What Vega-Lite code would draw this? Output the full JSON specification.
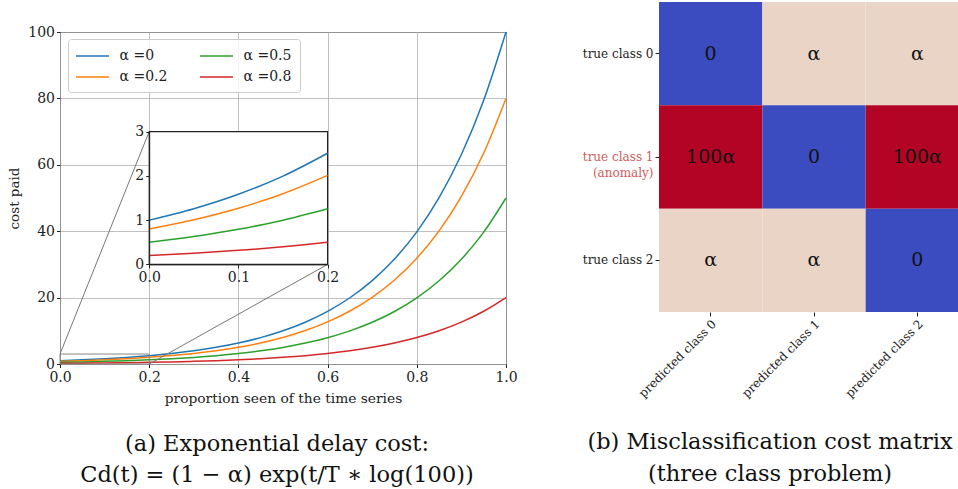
{
  "$schema": "https://vega.github.io/schema/vega-lite/v6.json",
  "background": "white",
  "padding": {"left": 7, "top": 2, "right": 0, "bottom": 0},
  "config": {
    "font": "DejaVu Serif",
    "view": {"stroke": null},
    "axis": {"labelFont": "DejaVu Serif", "titleFont": "DejaVu Serif", "labelColor": "#222", "titleColor": "#222", "titleFontWeight": "normal", "tickColor": "#222", "domainColor": "#222", "labelFlush": false, "labelOverlap": false},
    "legend": {"labelFont": "DejaVu Serif"},
    "title": {"font": "DejaVu Serif", "fontWeight": "normal", "color": "#111"}
  },
  "datasets": {
    "curves": [
      {"t": 0, "cost": 1, "s": "α =0"}, {"t": 0.05, "cost": 1.259, "s": "α =0"}, {"t": 0.1, "cost": 1.585, "s": "α =0"}, {"t": 0.15, "cost": 1.995, "s": "α =0"}, {"t": 0.2, "cost": 2.512, "s": "α =0"}, {"t": 0.25, "cost": 3.162, "s": "α =0"}, {"t": 0.3, "cost": 3.981, "s": "α =0"}, {"t": 0.35, "cost": 5.012, "s": "α =0"}, {"t": 0.4, "cost": 6.31, "s": "α =0"}, {"t": 0.45, "cost": 7.943, "s": "α =0"}, {"t": 0.5, "cost": 10, "s": "α =0"}, {"t": 0.55, "cost": 12.589, "s": "α =0"}, {"t": 0.6, "cost": 15.849, "s": "α =0"}, {"t": 0.65, "cost": 19.953, "s": "α =0"}, {"t": 0.7, "cost": 25.119, "s": "α =0"}, {"t": 0.75, "cost": 31.623, "s": "α =0"}, {"t": 0.8, "cost": 39.811, "s": "α =0"}, {"t": 0.85, "cost": 50.119, "s": "α =0"}, {"t": 0.9, "cost": 63.096, "s": "α =0"}, {"t": 0.95, "cost": 79.433, "s": "α =0"}, {"t": 1, "cost": 100, "s": "α =0"},
      {"t": 0, "cost": 0.8, "s": "α =0.2"}, {"t": 0.05, "cost": 1.007, "s": "α =0.2"}, {"t": 0.1, "cost": 1.268, "s": "α =0.2"}, {"t": 0.15, "cost": 1.596, "s": "α =0.2"}, {"t": 0.2, "cost": 2.01, "s": "α =0.2"}, {"t": 0.25, "cost": 2.53, "s": "α =0.2"}, {"t": 0.3, "cost": 3.185, "s": "α =0.2"}, {"t": 0.35, "cost": 4.01, "s": "α =0.2"}, {"t": 0.4, "cost": 5.048, "s": "α =0.2"}, {"t": 0.45, "cost": 6.355, "s": "α =0.2"}, {"t": 0.5, "cost": 8, "s": "α =0.2"}, {"t": 0.55, "cost": 10.071, "s": "α =0.2"}, {"t": 0.6, "cost": 12.679, "s": "α =0.2"}, {"t": 0.65, "cost": 15.962, "s": "α =0.2"}, {"t": 0.7, "cost": 20.095, "s": "α =0.2"}, {"t": 0.75, "cost": 25.298, "s": "α =0.2"}, {"t": 0.8, "cost": 31.849, "s": "α =0.2"}, {"t": 0.85, "cost": 40.095, "s": "α =0.2"}, {"t": 0.9, "cost": 50.477, "s": "α =0.2"}, {"t": 0.95, "cost": 63.546, "s": "α =0.2"}, {"t": 1, "cost": 80, "s": "α =0.2"},
      {"t": 0, "cost": 0.5, "s": "α =0.5"}, {"t": 0.05, "cost": 0.629, "s": "α =0.5"}, {"t": 0.1, "cost": 0.792, "s": "α =0.5"}, {"t": 0.15, "cost": 0.998, "s": "α =0.5"}, {"t": 0.2, "cost": 1.256, "s": "α =0.5"}, {"t": 0.25, "cost": 1.581, "s": "α =0.5"}, {"t": 0.3, "cost": 1.991, "s": "α =0.5"}, {"t": 0.35, "cost": 2.506, "s": "α =0.5"}, {"t": 0.4, "cost": 3.155, "s": "α =0.5"}, {"t": 0.45, "cost": 3.972, "s": "α =0.5"}, {"t": 0.5, "cost": 5, "s": "α =0.5"}, {"t": 0.55, "cost": 6.295, "s": "α =0.5"}, {"t": 0.6, "cost": 7.924, "s": "α =0.5"}, {"t": 0.65, "cost": 9.976, "s": "α =0.5"}, {"t": 0.7, "cost": 12.559, "s": "α =0.5"}, {"t": 0.75, "cost": 15.811, "s": "α =0.5"}, {"t": 0.8, "cost": 19.905, "s": "α =0.5"}, {"t": 0.85, "cost": 25.059, "s": "α =0.5"}, {"t": 0.9, "cost": 31.548, "s": "α =0.5"}, {"t": 0.95, "cost": 39.716, "s": "α =0.5"}, {"t": 1, "cost": 50, "s": "α =0.5"},
      {"t": 0, "cost": 0.2, "s": "α =0.8"}, {"t": 0.05, "cost": 0.252, "s": "α =0.8"}, {"t": 0.1, "cost": 0.317, "s": "α =0.8"}, {"t": 0.15, "cost": 0.399, "s": "α =0.8"}, {"t": 0.2, "cost": 0.502, "s": "α =0.8"}, {"t": 0.25, "cost": 0.632, "s": "α =0.8"}, {"t": 0.3, "cost": 0.796, "s": "α =0.8"}, {"t": 0.35, "cost": 1.002, "s": "α =0.8"}, {"t": 0.4, "cost": 1.262, "s": "α =0.8"}, {"t": 0.45, "cost": 1.589, "s": "α =0.8"}, {"t": 0.5, "cost": 2, "s": "α =0.8"}, {"t": 0.55, "cost": 2.518, "s": "α =0.8"}, {"t": 0.6, "cost": 3.17, "s": "α =0.8"}, {"t": 0.65, "cost": 3.991, "s": "α =0.8"}, {"t": 0.7, "cost": 5.024, "s": "α =0.8"}, {"t": 0.75, "cost": 6.325, "s": "α =0.8"}, {"t": 0.8, "cost": 7.962, "s": "α =0.8"}, {"t": 0.85, "cost": 10.024, "s": "α =0.8"}, {"t": 0.9, "cost": 12.619, "s": "α =0.8"}, {"t": 0.95, "cost": 15.887, "s": "α =0.8"}, {"t": 1, "cost": 20, "s": "α =0.8"}
    ],
    "matrix": [
      {"truth": "true class 0", "pred": "predicted class 0", "cost": "0"},
      {"truth": "true class 0", "pred": "predicted class 1", "cost": "α"},
      {"truth": "true class 0", "pred": "predicted class 2", "cost": "α"},
      {"truth": "true class 1", "pred": "predicted class 0", "cost": "100α"},
      {"truth": "true class 1", "pred": "predicted class 1", "cost": "0"},
      {"truth": "true class 1", "pred": "predicted class 2", "cost": "100α"},
      {"truth": "true class 2", "pred": "predicted class 0", "cost": "α"},
      {"truth": "true class 2", "pred": "predicted class 1", "cost": "α"},
      {"truth": "true class 2", "pred": "predicted class 2", "cost": "0"}
    ]
  },
  "spacing": 64,
  "resolve": {"scale": {"color": "independent"}, "legend": {"color": "independent"}},
  "hconcat": [
    {
      "spacing": 21,
      "vconcat": [
        {
          "width": 446,
          "height": 1,
          "data": {"values": []},
          "mark": "point"
        },
        {
          "width": 446,
          "height": 332,
          "view": {"stroke": "#222", "strokeWidth": 1},
          "title": {"text": ["(a) Exponential delay cost:", "Cd(t) = (1 − α) exp(t/T ∗ log(100))"], "orient": "bottom", "anchor": "middle", "fontSize": 22.5, "lineHeight": 31, "offset": 28, "dx": -6},
          "resolve": {"scale": {"x": "independent", "y": "independent"}, "axis": {"x": "independent", "y": "independent"}},
          "layer": [
            {
              "layer": [
                {
                  "data": {"name": "curves"},
                  "mark": {"type": "line", "interpolate": "monotone", "strokeWidth": 1.5},
                  "encoding": {
                    "x": {"field": "t", "type": "quantitative", "scale": {"domain": [0, 1], "nice": false, "zero": false},
                      "axis": {"values": [0, 0.2, 0.4, 0.6, 0.8, 1], "format": ".1f", "title": "proportion seen of the time series", "titleFontSize": 13.8, "labelFontSize": 14, "grid": true, "gridColor": "#b0b0b0", "gridWidth": 0.8, "domain": false, "tickSize": 3.5, "labelPadding": 3, "titlePadding": 7}},
                    "y": {"field": "cost", "type": "quantitative", "scale": {"domain": [0, 100], "nice": false},
                      "axis": {"values": [0, 20, 40, 60, 80, 100], "title": "cost paid", "titleFontSize": 13.5, "labelFontSize": 14, "grid": true, "gridColor": "#b0b0b0", "gridWidth": 0.8, "domain": false, "tickSize": 3.5, "labelPadding": 2, "titlePadding": 6}},
                    "color": {"field": "s", "type": "nominal",
                      "scale": {"domain": ["α =0", "α =0.2", "α =0.5", "α =0.8"], "range": ["#1f77b4", "#ff7f0e", "#2ca02c", "#d62728"]},
                      "legend": {"title": null, "orient": "none", "legendX": 8, "legendY": 37, "columns": 2, "symbolType": "M-2,0H2", "symbolSize": 272, "symbolStrokeWidth": 1.5, "symbolOffset": 7.5, "labelFontSize": 14, "labelColor": "#222", "labelOffset": 18, "columnPadding": 29, "rowPadding": 5, "padding": 8, "fillColor": "rgba(255,255,255,0.8)", "strokeColor": "#cccccc", "cornerRadius": 3}}
                  }
                },
                {
                  "data": {"values": [{}]},
                  "mark": {"type": "rect", "fill": null, "stroke": "#888888", "strokeWidth": 1},
                  "encoding": {"x": {"datum": 0, "type": "quantitative"}, "x2": {"datum": 0.2}, "y": {"datum": 0, "type": "quantitative"}, "y2": {"datum": 3}}
                },
                {
                  "data": {"values": [{}]},
                  "mark": {"type": "rule", "color": "#777777", "strokeWidth": 1},
                  "encoding": {"x": {"datum": 0, "type": "quantitative"}, "x2": {"datum": 0.2}, "y": {"datum": 3, "type": "quantitative"}, "y2": {"datum": 70}}
                },
                {
                  "data": {"values": [{}]},
                  "mark": {"type": "rule", "color": "#777777", "strokeWidth": 1},
                  "encoding": {"x": {"datum": 0.2, "type": "quantitative"}, "x2": {"datum": 0.6}, "y": {"datum": 0, "type": "quantitative"}, "y2": {"datum": 30}}
                }
              ]
            },
            {
              "encoding": {
                "x": {"type": "quantitative", "scale": {"domain": [0, 0.2], "range": [89.2, 267.6], "nice": false, "zero": false},
                  "axis": {"values": [0, 0.1, 0.2], "format": ".1f", "orient": "bottom", "offset": -99.6, "title": null, "grid": false, "domain": true, "tickSize": 3.5, "labelFontSize": 14, "labelPadding": 3, "zindex": 2}},
                "y": {"type": "quantitative", "scale": {"domain": [0, 3], "range": [232.4, 99.6], "nice": false, "zero": false},
                  "axis": {"values": [0, 1, 2, 3], "orient": "left", "offset": -89.2, "title": null, "grid": false, "domain": true, "tickSize": 3.5, "labelFontSize": 14, "labelPadding": 2, "zindex": 2}}
              },
              "layer": [
                {
                  "data": {"values": [{}]},
                  "mark": {"type": "rect", "fill": "white", "stroke": "#222", "strokeWidth": 1.2},
                  "encoding": {"x": {"datum": 0}, "x2": {"datum": 0.2}, "y": {"datum": 0}, "y2": {"datum": 3}}
                },
                {
                  "data": {"name": "curves"},
                  "transform": [{"filter": "datum.t <= 0.2001"}],
                  "mark": {"type": "line", "interpolate": "monotone", "strokeWidth": 1.5},
                  "encoding": {"x": {"field": "t"}, "y": {"field": "cost"}, "color": {"field": "s", "type": "nominal"}}
                }
              ]
            }
          ]
        }
      ]
    },
    {
      "width": 310,
      "height": 310,
      "data": {"name": "matrix"},
      "title": {"text": ["(b) Misclassification cost matrix", "(three class problem)"], "orient": "bottom", "anchor": "middle", "fontSize": 22.5, "lineHeight": 32, "offset": 32, "dx": -44},
      "encoding": {
        "x": {"field": "pred", "type": "nominal", "sort": null, "scale": {"paddingInner": 0, "paddingOuter": 0},
          "axis": {"title": null, "labelAngle": -45, "labelAlign": "right", "labelBaseline": "top", "labelFontSize": 12, "tickSize": 4, "domain": false, "grid": false, "labelPadding": 2}},
        "y": {"field": "truth", "type": "nominal", "sort": null, "scale": {"paddingInner": 0, "paddingOuter": 0},
          "axis": {"title": null, "labelFontSize": 12, "tickSize": 4, "domain": false, "grid": false, "labelPadding": 2, "labelLineHeight": 16,
            "labelExpr": "datum.value == 'true class 1' ? ['true class 1', '(anomaly)'] : datum.value",
            "labelColor": {"condition": {"test": "datum.value == 'true class 1'", "value": "#cd5c5c"}, "value": "#222"}}}
      },
      "layer": [
        {"mark": {"type": "rect"}, "encoding": {"color": {"field": "cost", "type": "nominal", "scale": {"domain": ["0", "α", "100α"], "range": ["#3b4cc0", "#e9d4c6", "#b40426"]}, "legend": null}}},
        {"mark": {"type": "text", "fontSize": 19, "color": "#111"}, "encoding": {"text": {"field": "cost"}}}
      ]
    }
  ]
}
